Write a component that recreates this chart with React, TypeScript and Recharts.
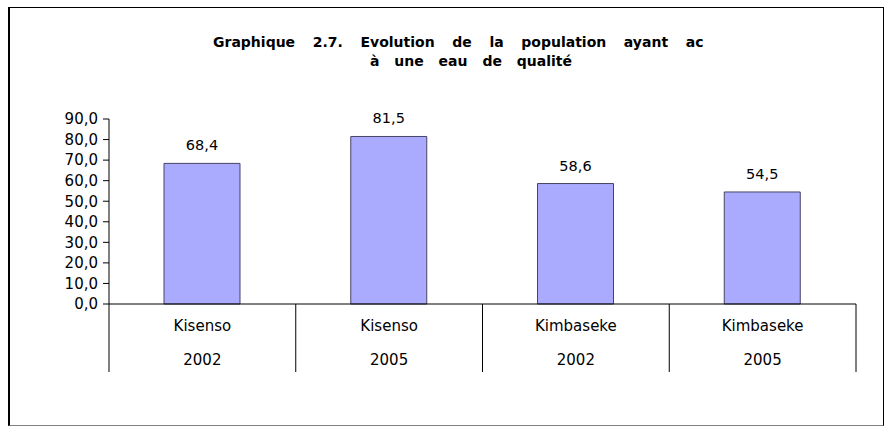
import { BarChart, Bar, XAxis, YAxis, LabelList } from 'recharts';

const districts = ['Kisenso', 'Kisenso', 'Kimbaseke', 'Kimbaseke'];
const years = ['2002', '2005', '2002', '2005'];
const values = [68.4, 81.5, 58.6, 54.5];
const yTicks = [0, 10, 20, 30, 40, 50, 60, 70, 80, 90];

const titleLine1 = 'Graphique 2.7. Evolution de la population ayant ac';
const titleLine2 = 'à une eau de qualité';

const data = values.map((v, i) => ({ key: `${districts[i]} ${years[i]}`, district: districts[i], year: years[i], value: v }));

const fmt = (v: number) => v.toFixed(1).replace('.', ',');
const font = 'DejaVu Sans, Verdana, sans-serif';

// two-row category axis with vertical separators between groups
const CategoryTick = (props: any) => {
  const { x, y, payload, index, visibleTicksCount, width } = props;
  const half = payload?.offset ?? width / (visibleTicksCount || 4) / 2;
  const row = data[index] || data[payload.index] || { district: '', year: '' };
  const isLast = index === (visibleTicksCount || 4) - 1;
  return (
    <g>
      <line x1={x - half} y1={y} x2={x - half} y2={y + 68} stroke="#000" />
      {isLast && <line x1={x + half} y1={y} x2={x + half} y2={y + 68} stroke="#000" />}
      <text x={x} y={y + 27} textAnchor="middle" fontSize={15} fontFamily={font} fill="#000">{row.district}</text>
      <text x={x} y={y + 61} textAnchor="middle" fontSize={15} fontFamily={font} fill="#000">{row.year}</text>
    </g>
  );
};

export default function App() {
  return (
    <div style={{ position: 'absolute', left: 0, top: 0, width: 894, height: 428, background: '#fff' }}>
      <div style={{ position: 'absolute', left: 8, top: 7, width: 876, height: 419, borderLeft: '2px solid #000', borderTop: '1px solid #000', borderRight: '1px solid #000', borderBottom: '1px solid #808080', boxSizing: 'border-box' }} />
      <svg width={894} height={428} style={{ position: 'absolute', left: 0, top: 0 }}>
        <text x={213} y={47} fontSize={14} fontWeight="bold" fontFamily={font} style={{ wordSpacing: 12.75 }} fill="#000">{titleLine1}</text>
        <text x={370} y={66} fontSize={14} fontWeight="bold" fontFamily={font} style={{ wordSpacing: 10 }} fill="#000">{titleLine2}</text>
      </svg>
      <div style={{ position: 'absolute', left: 0, top: 0 }}>
        <BarChart width={894} height={428} data={data} margin={{ top: 119, right: 38, left: 49, bottom: 54 }}>
          <YAxis
            domain={[0, 90]}
            ticks={yTicks}
            width={60}
            tickFormatter={fmt}
            axisLine={{ stroke: '#000' }}
            tickLine={{ stroke: '#000' }}
            tickSize={6}
            tickMargin={5}
            tick={{ fill: '#000', fontSize: 15, fontFamily: font }}
            interval={0}
          />
          <XAxis
            dataKey="key"
            height={70}
            axisLine={{ stroke: '#000' }}
            tickLine={false}
            tickSize={0}
            tickMargin={0}
            interval={0}
            tick={<CategoryTick />}
          />
          <Bar dataKey="value" fill="#aaaaff" stroke="#444466" strokeWidth={1} barSize={76} isAnimationActive={false}>
            <LabelList dataKey="value" position="top" offset={13} formatter={(v: any) => fmt(Number(v))} style={{ fill: '#000', fontSize: 14.5, fontFamily: font }} />
          </Bar>
        </BarChart>
      </div>
    </div>
  );
}
